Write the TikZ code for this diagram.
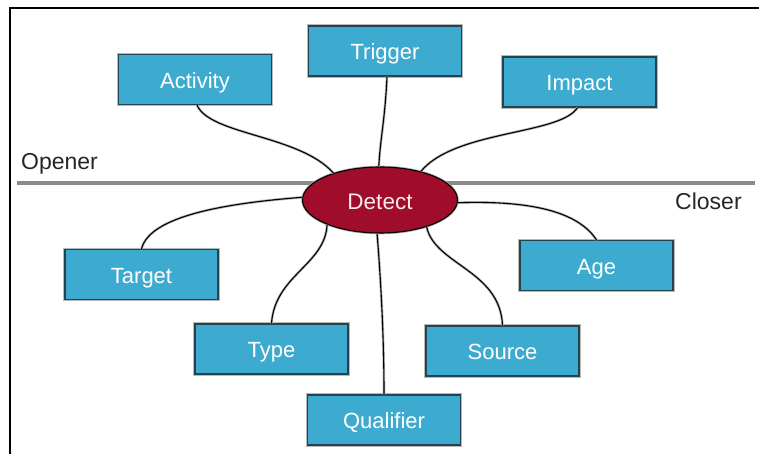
\documentclass[tikz,border=0pt]{standalone}
\usepackage{fontspec}
\setmainfont{Liberation Sans}
\usetikzlibrary{calc,shapes.geometric}
\definecolor{boxblue}{HTML}{3DAACF}
\definecolor{boxedge}{HTML}{24434E}
\definecolor{detred}{HTML}{A00D2A}
\definecolor{sepgray}{HTML}{8A8A8A}
\tikzset{
  catbox/.style={draw=boxedge, line width=1.3pt, fill=boxblue, minimum width=153pt, minimum height=50pt, inner sep=0pt,
    text=white, font=\fontsize{22}{25}\selectfont, text height=17.5pt, text depth=0pt,
    preaction={draw=gray!55, line width=3.4pt}},
  hub/.style={ellipse, draw=black, line width=1.1pt, fill=detred, minimum width=155pt, minimum height=66pt, inner sep=0pt,
    text=white!92!red, font=\fontsize{22.5}{26}\selectfont, text height=18.5pt, text depth=0pt,
    preaction={draw=gray!60, line width=2.6pt}},
  link/.style={draw=black, line width=1.1pt, preaction={draw=gray!55, line width=2.6pt}},
  sidelabel/.style={inner sep=0pt, anchor=base west, text=black!85, font=\fontsize{23}{26}\selectfont},
}
\begin{document}
\begin{tikzpicture}[x=1pt,y=-1pt]
\useasboundingbox (0,0) rectangle (759,454);
% frame
\coordinate (fbl) at (10,454);
\coordinate (ftl) at (10,8);
\coordinate (ftr) at (759,8);
\draw[line width=2.2pt, black] (fbl) -- (ftl) -- (ftr);
% separator
\coordinate (sepL) at (17,183);
\coordinate (sepR) at (755,183);
\draw[sepgray, line width=4pt] (sepL) -- (sepR);
\node[sidelabel] (opener) at (21,170) {Opener};
\node[sidelabel] (closer) at (675,210) {Closer};
% hub
\node[hub] (det) at (380,200) {Detect};
% boxes
\node[catbox] (act) at (195,79.5) {Activity};
\node[catbox] (trg) at (385,51) {Trigger};
\node[catbox] (imp) at (579.5,82) {Impact};
\node[catbox] (tgt) at (141.5,274.5) {Target};
\node[catbox] (typ) at (271.5,349) {Type};
\node[catbox] (qua) at (384,420) {Qualifier};
\node[catbox] (src) at (502.5,351) {Source};
\node[catbox] (age) at (596.5,265.5) {Age};
% connectors
\path[link] ($(act.south)+(2,0)$) .. controls (210,135) and (300,135) .. (det.150);
\path[link] ($(trg.south)+(2,0)$) .. controls (385,120) and (380,140) .. (det.92);
\path[link] ($(imp.south)+(-2,0)$) .. controls (560,135) and (455,130) .. (det.35);
\path[link] (det.178) .. controls (230,203) and (150,215) .. (tgt.north);
\path[link] (det.205) .. controls (325,265) and (275,275) .. (typ.north);
\path[link] (det.265) .. controls (380,270) and (384,330) .. (qua.north);
\path[link] (det.330) .. controls (435,265) and (500,270) .. (src.north);
\path[link] (det.358) .. controls (540,200) and (580,215) .. (age.north);
\end{tikzpicture}
\end{document}
